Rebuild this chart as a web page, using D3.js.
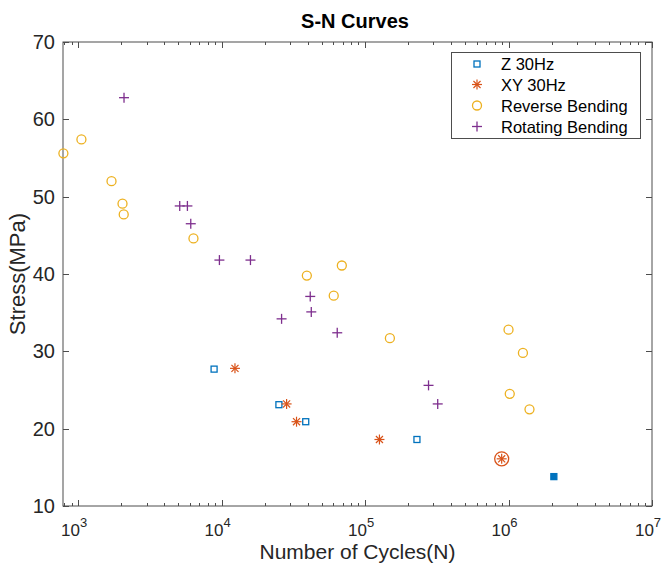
<!DOCTYPE html>
<html>
<head>
<meta charset="utf-8">
<script src="https://cdn.jsdelivr.net/npm/d3@7"></script>
<style>
  body { margin: 0; background: #fff; }
  svg { font-family: "Liberation Sans", Arial, sans-serif; }
</style>
</head>
<body>
<svg width="665" height="566"></svg>
<script>
// Z 30Hz
const zN = [8870, 25100, 38600, 230000];
const zS = [27.7, 23.1, 20.9, 18.6];
const zRunoutN = [2070000];
const zRunoutS = [13.8];
// XY 30Hz
const xyN = [12400, 28400, 33300, 126000, 896000];
const xyS = [27.8, 23.2, 20.9, 18.6, 16.1];
const xyCircledN = [896000];
const xyCircledS = [16.1];
// Reverse Bending
const rbN = [790, 1055, 1710, 2040, 2080, 6370, 39300, 68900, 60500, 149000, 1000000, 1260000, 1020000, 1400000];
const rbS = [55.6, 57.4, 52.0, 49.1, 47.7, 44.6, 39.8, 41.1, 37.2, 31.7, 32.8, 29.8, 24.5, 22.5];
// Rotating Bending
const rotN = [2090, 5110, 5780, 6100, 9660, 15900, 41500, 42200, 26200, 64000, 277000, 321000];
const rotS = [62.8, 48.8, 48.8, 46.5, 41.8, 41.8, 37.1, 35.1, 34.2, 32.4, 25.6, 23.2];

const xTicks = [3, 4, 5, 6, 7];
const yTicks = [10, 20, 30, 40, 50, 60, 70];
const legendLabels = ["Z 30Hz", "XY 30Hz", "Reverse Bending", "Rotating Bending"];

const blue = "#0072BD", red = "#D95319", yellow = "#EDB120", purple = "#7E2F8E";
const axisColor = "#4d4d4d";

const svg = d3.select("svg");
const margin = {top: 42, right: 13, bottom: 60, left: 63};
const W = 665, H = 566;

const x = d3.scaleLog().domain([785, 1e7]).range([margin.left, W - margin.right]);
const y = d3.scaleLinear().domain([10, 70]).range([H - margin.bottom, margin.top]);

// box
svg.append("rect")
  .attr("x", margin.left).attr("y", margin.top)
  .attr("width", W - margin.right - margin.left)
  .attr("height", H - margin.bottom - margin.top)
  .attr("fill", "none").attr("stroke", axisColor).attr("stroke-width", 1);

// ticks (inward, both sides)
const ticks = svg.append("g").attr("stroke", axisColor).attr("stroke-width", 1);
const minor = [];
for (let e = 2; e <= 6; e++) for (let m = 1; m <= 9; m++) {
  const v = m * Math.pow(10, e);
  if (v >= 785 && v <= 1e7) minor.push({v: v, major: m === 1});
}
minor.push({v: 1e7, major: true});
minor.forEach(function(t) {
  const len = t.major ? 6 : 3;
  const px = Math.round(x(t.v)) + 0.5;
  ticks.append("line").attr("x1", px).attr("x2", px)
    .attr("y1", y(10)).attr("y2", y(10) - len);
  ticks.append("line").attr("x1", px).attr("x2", px)
    .attr("y1", y(70)).attr("y2", y(70) + len);
});
yTicks.forEach(function(v) {
  const py = Math.round(y(v)) + 0.5;
  ticks.append("line").attr("x1", x.range()[0]).attr("x2", x.range()[0] + 6)
    .attr("y1", py).attr("y2", py);
  ticks.append("line").attr("x1", x.range()[1]).attr("x2", x.range()[1] - 6)
    .attr("y1", py).attr("y2", py);
});

// y tick labels
svg.append("g").selectAll("text").data(yTicks).enter().append("text")
  .attr("x", margin.left - 8).attr("y", d => y(d) + 7)
  .attr("text-anchor", "end").attr("font-size", 20).attr("fill", "#262626")
  .text(d => d);

// x tick labels 10^n
const xl = svg.append("g").selectAll("text").data(xTicks).enter().append("text")
  .attr("x", d => x(Math.pow(10, d)) - 4).attr("y", 536)
  .attr("text-anchor", "middle").attr("font-size", 17).attr("fill", "#262626");
xl.append("tspan").text("10");
xl.append("tspan").attr("dy", -9).attr("font-size", 13).text(d => d);

// titles
svg.append("text").attr("x", 355).attr("y", 28)
  .attr("text-anchor", "middle").attr("font-size", 20).attr("font-weight", "bold")
  .attr("fill", "#000").text("S-N Curves");
svg.append("text").attr("x", (margin.left + W - margin.right) / 2).attr("y", 559)
  .attr("text-anchor", "middle").attr("font-size", 21).attr("fill", "#262626")
  .text("Number of Cycles(N)");
svg.append("text").attr("transform", "translate(25," + ((margin.top + H - margin.bottom) / 2) + ") rotate(-90)")
  .attr("text-anchor", "middle").attr("font-size", 22).attr("fill", "#262626")
  .text("Stress(MPa)");

// marker helpers
function square(g, cx, cy, color, filled) {
  g.append("rect").attr("x", cx - 3).attr("y", cy - 3).attr("width", 6).attr("height", 6)
    .attr("fill", filled ? color : "none").attr("stroke", color).attr("stroke-width", 1.3);
}
function star(g, cx, cy, color) {
  const r = 5;
  [0, 45, 90, 135].forEach(function(a) {
    const rad = a * Math.PI / 180;
    g.append("line")
      .attr("x1", cx - r * Math.cos(rad)).attr("y1", cy - r * Math.sin(rad))
      .attr("x2", cx + r * Math.cos(rad)).attr("y2", cy + r * Math.sin(rad))
      .attr("stroke", color).attr("stroke-width", 1.2);
  });
}
function circle(g, cx, cy, color, r) {
  g.append("circle").attr("cx", cx).attr("cy", cy).attr("r", r || 4.5)
    .attr("fill", "none").attr("stroke", color).attr("stroke-width", 1.3);
}
function plus(g, cx, cy, color) {
  const r = 5;
  g.append("line").attr("x1", cx - r).attr("x2", cx + r).attr("y1", cy).attr("y2", cy)
    .attr("stroke", color).attr("stroke-width", 1.3);
  g.append("line").attr("x1", cx).attr("x2", cx).attr("y1", cy - r).attr("y2", cy + r)
    .attr("stroke", color).attr("stroke-width", 1.3);
}

const marks = svg.append("g");
zN.forEach((n, i) => square(marks, x(n), y(zS[i]), blue, false));
zRunoutN.forEach((n, i) => square(marks, x(n), y(zRunoutS[i]), blue, true));
xyCircledN.forEach((n, i) => circle(marks, x(n), y(xyCircledS[i]), red, 7));
xyN.forEach((n, i) => star(marks, x(n), y(xyS[i]), red));
rbN.forEach((n, i) => circle(marks, x(n), y(rbS[i]), yellow));
rotN.forEach((n, i) => plus(marks, x(n), y(rotS[i]), purple));

// legend
const lg = svg.append("g");
lg.append("rect").attr("x", 451.5).attr("y", 52.5).attr("width", 189).attr("height", 86)
  .attr("fill", "#fff").attr("stroke", axisColor).attr("stroke-width", 1);
const rowY = [64, 84.5, 105.5, 126.5];
const drawers = [
  (g, cx, cy) => square(g, cx, cy, blue, false),
  (g, cx, cy) => star(g, cx, cy, red),
  (g, cx, cy) => circle(g, cx, cy, yellow),
  (g, cx, cy) => plus(g, cx, cy, purple)
];
legendLabels.forEach(function(label, i) {
  drawers[i](lg, 477, rowY[i]);
  lg.append("text").attr("x", 501).attr("y", rowY[i] + 6)
    .attr("font-size", 16.5).attr("fill", "#000").text(label);
});
</script>
</body>
</html>
